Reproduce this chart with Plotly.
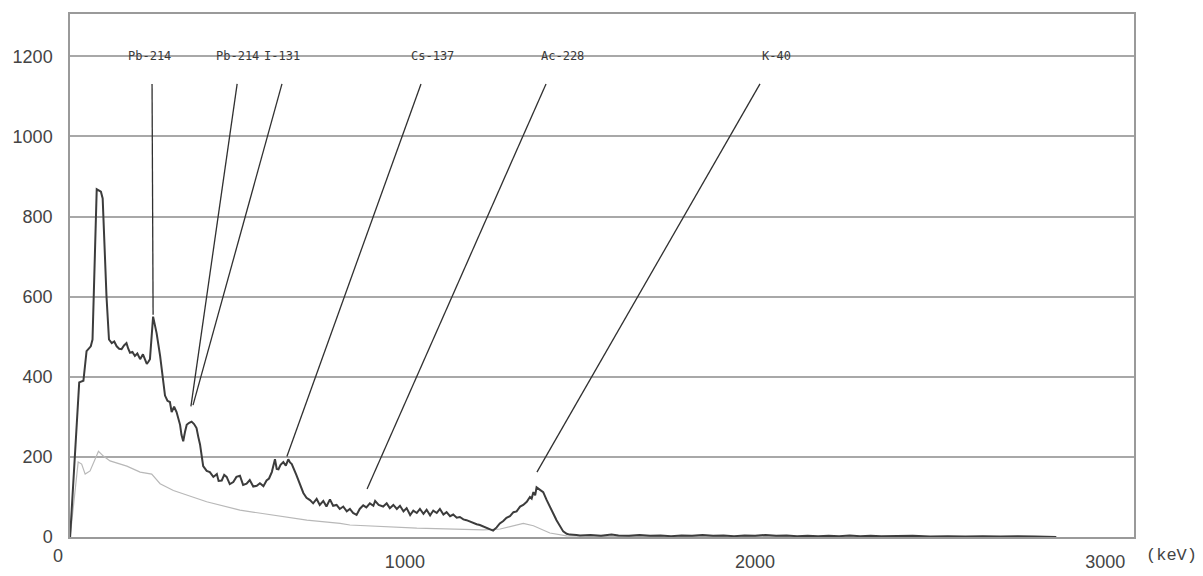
import plotly.graph_objects as go

# Measured spectrum (dark trace): energy (keV) and counts
energy = [44, 70, 82, 87, 91, 103, 108, 120, 132, 137, 148, 155, 163, 170, 177, 184, 191, 198, 205,
          210, 215, 222, 229, 236, 244, 252, 258, 263, 268, 272, 281, 291, 301, 308, 315, 322, 329,
          334, 341, 348, 353, 358, 362, 367, 372, 377, 384, 391, 398, 405, 410, 415, 424, 434, 443,
          453, 463, 468, 477, 484, 491, 500, 510, 519, 529, 538, 548, 557, 567, 577, 586, 596, 605,
          612, 620, 629, 634, 639, 645, 653, 660, 667, 672, 677, 690, 700, 710, 719, 729, 738, 748,
          757, 767, 776, 786, 795, 805, 814, 824, 834, 843, 852, 862, 871, 881, 890, 900, 910, 915,
          925, 938, 948, 957, 967, 977, 986, 996, 1005, 1015, 1024, 1034, 1043, 1053, 1062, 1072,
          1081, 1091, 1100, 1110, 1119, 1129, 1138, 1148, 1157, 1167, 1176, 1186, 1195, 1205, 1214,
          1224, 1233, 1243, 1252, 1262, 1271, 1281, 1290, 1300, 1310, 1319, 1329, 1338, 1348, 1357,
          1362, 1367, 1372, 1376, 1386, 1395, 1405, 1414, 1424, 1433, 1443, 1452, 1462, 1471, 1490,
          1500, 1530, 1560, 1590, 1610, 1640, 1670, 1700, 1730, 1760, 1790, 1820, 1850, 1880, 1910,
          1940, 1970, 2000, 2030, 2060, 2090, 2120, 2150, 2180, 2210, 2240, 2270, 2300, 2330, 2360,
          2400, 2450, 2500, 2550, 2600, 2650, 2700, 2750, 2800, 2860]
counts = [0, 386, 390, 444, 464, 476, 493, 868, 862, 845, 599, 493, 484, 488, 476, 470, 469, 478, 484,
          470, 460, 462, 452, 458, 444, 456, 440, 432, 438, 444, 550, 509, 452, 400, 353, 340, 337,
          312, 325, 312, 295, 280, 255, 239, 262, 280, 285, 288, 282, 272, 250, 231, 177, 165, 162,
          150, 157, 140, 141, 155, 150, 132, 137, 150, 153, 130, 133, 142, 126, 128, 134, 127, 141,
          146, 162, 194, 170, 169, 180, 187, 178, 194, 186, 182, 155, 133, 110, 98, 92, 84, 95,
          80, 90, 76, 94, 78, 80, 70, 76, 64, 70, 60, 55, 70, 79, 74, 84, 78, 90,
          80, 76, 84, 72, 80, 70, 78, 64, 72, 55, 66, 60, 70, 58, 68, 54,
          66, 60, 70, 56, 62, 52, 56, 48, 50, 44, 42, 38, 36, 32, 30,
          26, 24, 20, 16, 24, 34, 40, 48, 52, 62, 64, 76, 80, 88, 100,
          96, 112, 104, 124, 118, 112, 92, 74, 58, 42, 26, 14, 8, 6, 5,
          4, 5, 3, 6, 4, 3, 5, 3, 4, 2, 4, 3, 5, 3, 4,
          2, 4, 3, 5, 3, 4, 2, 3, 2, 3, 2, 4, 2, 3, 2,
          2, 3, 1, 2, 1, 2, 1, 2, 1, 0]

# Background spectrum (light trace)
bg_energy = [44, 67, 77, 87, 101, 110, 125, 139, 158, 206, 244, 277, 301, 339, 434, 529, 624, 720,
             815, 843, 1034, 1224, 1272, 1338, 1367, 1414, 1462, 1600, 2000, 2500, 2860]
bg_counts = [0, 187, 182, 157, 165, 182, 214, 202, 190, 177, 162, 157, 133, 116, 88, 67, 55, 42,
             34, 30, 22, 18, 20, 34, 28, 10, 3, 1, 1, 1, 0]

# Nuclide labels and leader lines
nuclides = ["Pb-214", "Pb-214", "I-131", "Cs-137", "Ac-228", "K-40"]
label_x = [272, 523, 648, 1079, 1450, 2060]
label_y = 1200
line_top_x = [278, 521, 649, 1046, 1403, 2014]
line_top_y = 1131
line_end_x = [281, 389, 395, 663, 892, 1377]
line_end_y = [555, 326, 329, 201, 120, 162]

y_ticks = [0, 200, 400, 600, 800, 1000, 1200]
x_ticks = [1000, 2000, 3000]

fig = go.Figure()

for i in range(len(nuclides)):
    fig.add_trace(go.Scatter(
        x=[line_top_x[i], line_end_x[i]], y=[line_top_y, line_end_y[i]],
        mode="lines", line=dict(color="#303030", width=1.3),
        showlegend=False, hoverinfo="skip"))

fig.add_trace(go.Scatter(x=bg_energy, y=bg_counts, mode="lines",
                         line=dict(color="#b8b8b8", width=1.2), showlegend=False))
fig.add_trace(go.Scatter(x=energy, y=counts, mode="lines",
                         line=dict(color="#3c3c3c", width=2), showlegend=False))

for i, name in enumerate(nuclides):
    fig.add_annotation(x=label_x[i], y=label_y, xref="x", yref="y", text=name,
                       showarrow=False, xanchor="center", yanchor="middle",
                       font=dict(family="DejaVu Sans Mono", size=12, color="#3a3a3a"))

fig.add_annotation(x=-0.0113, y=-0.036, xref="paper", yref="paper", text="0",
                   showarrow=False, xanchor="center", yanchor="middle",
                   font=dict(family="Liberation Sans", size=18, color="#444"))
fig.add_annotation(x=1.0357, y=-0.036, xref="paper", yref="paper", text="(keV)",
                   showarrow=False, xanchor="center", yanchor="middle",
                   font=dict(family="Liberation Mono", size=17, color="#444"))

fig.update_layout(
    width=1195, height=568,
    margin=dict(l=62, r=69, t=4, b=32),
    paper_bgcolor="white", plot_bgcolor="white",
    xaxis=dict(range=[43.7, 3082], tickvals=x_ticks, ticktext=[str(v) for v in x_ticks],
               showgrid=False, zeroline=False, showline=True, linecolor="#9a9a9a",
               linewidth=1.5, mirror=True, ticks="", ticklabelstandoff=8,
               tickfont=dict(family="Liberation Sans", size=18, color="#444")),
    yaxis=dict(range=[0, 1305.5], tickvals=y_ticks, ticktext=[str(v) for v in y_ticks],
               showgrid=True, gridcolor="#a8a8a8", gridwidth=1.6, zeroline=False,
               showline=True, linecolor="#9a9a9a", linewidth=1.5, mirror=True,
               ticks="", ticklabelstandoff=12,
               tickfont=dict(family="Liberation Sans", size=18, color="#444")),
)

fig.write_html("out.html")
